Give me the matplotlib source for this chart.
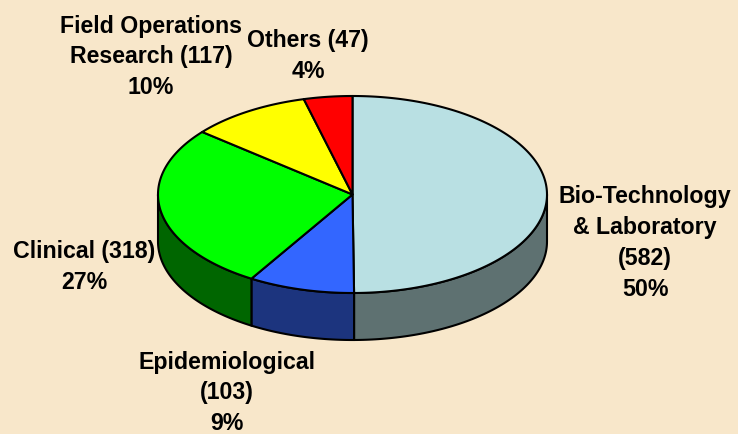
import matplotlib.pyplot as plt
import numpy as np

plt.rcParams['font.family'] = ['Liberation Sans', 'DejaVu Sans']

# data (clockwise from 12 o'clock)
names = ['Bio-Technology\n& Laboratory\n', 'Epidemiological\n', 'Clinical ',
         'Field Operations\nResearch ', 'Others ']
counts = [582, 103, 318, 117, 47]
top_colors = ['#B9E0E3', '#3366FF', '#00FF00', '#FFFF00', '#FF0000']
side_colors = ['#5E7171', '#1C347E', '#006600', '#999900', '#990000']

# layout (pixels)
cx, cy, rx, ry, depth = 352.5, 194.5, 194.5, 98.5, 47
label_xy = [(645, 243), (227, 393), (84, 267), (151, 57), (308, 56)]

fig = plt.figure(figsize=(7.38, 4.34), dpi=100)
fig.patch.set_facecolor('#F8E7CA')
ax = fig.add_axes([0, 0, 1, 1])
ax.set_xlim(0, 738)
ax.set_ylim(434, 0)
ax.axis('off')


def rim(t, dy=0):
    # point on the ellipse, t in degrees clockwise from top
    t = np.radians(t)
    return cx + rx * np.sin(t), cy - ry * np.cos(t) + dy


total = sum(counts)
bounds = np.concatenate([[0], np.cumsum(counts) / total * 360])

# side walls first (only the front half, 90..270 deg, is visible)
for i in range(len(counts)):
    a, b = max(bounds[i], 90), min(bounds[i + 1], 270)
    if b <= a:
        continue
    t = np.linspace(a, b, 100)
    xt, yt = rim(t)
    xb, yb = rim(t[::-1], depth)
    ax.fill(np.concatenate([xt, xb]), np.concatenate([yt, yb]),
            facecolor=side_colors[i], edgecolor='black', linewidth=1.5,
            joinstyle='round')

# top face
for i in range(len(counts)):
    t = np.linspace(bounds[i], bounds[i + 1], 200)
    xt, yt = rim(t)
    ax.fill(np.concatenate([[cx], xt]), np.concatenate([[cy], yt]),
            facecolor=top_colors[i], edgecolor='black', linewidth=1.5,
            joinstyle='round')

# labels
for i in range(len(counts)):
    pct = round(counts[i] / total * 100)
    ax.text(label_xy[i][0], label_xy[i][1],
            f'{names[i]}({counts[i]})\n{pct}%',
            ha='center', va='center', multialignment='center',
            fontsize=16.7, fontweight='bold', linespacing=1.44)

fig.savefig('out.png', dpi=100, facecolor=fig.get_facecolor())
